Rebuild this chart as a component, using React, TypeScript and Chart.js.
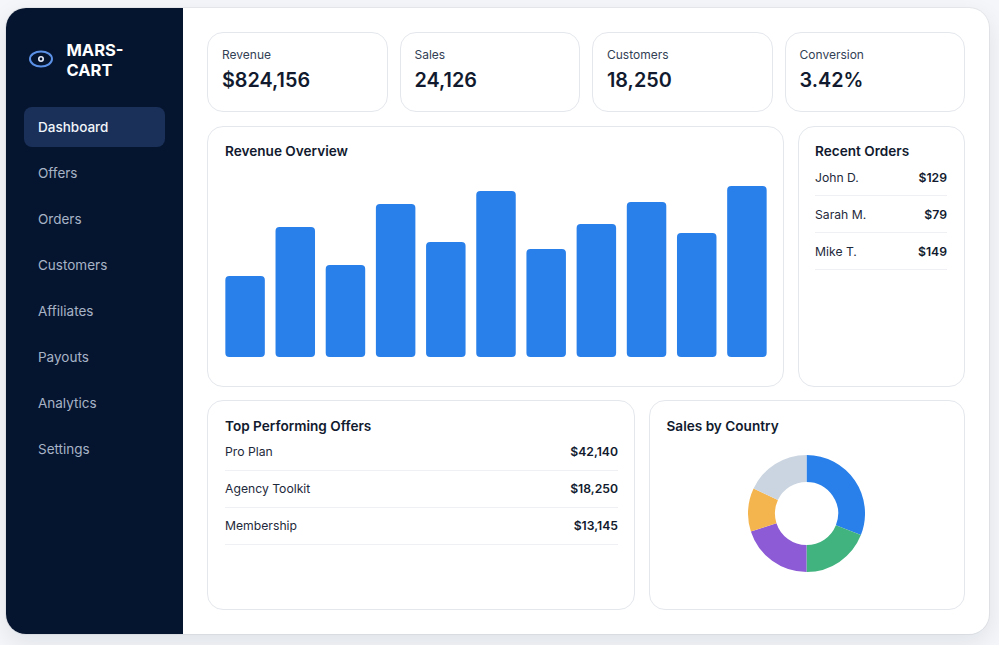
import React, { useEffect, useRef } from 'react';
import Chart from 'chart.js/auto';

const navItems = ['Dashboard', 'Offers', 'Orders', 'Customers', 'Affiliates', 'Payouts', 'Analytics', 'Settings'];
const kpiLabels = ['Revenue', 'Sales', 'Customers', 'Conversion'];
const kpiValues = ['$824,156', '24,126', '18,250', '3.42%'];
const kpiLefts = [207, 399.5, 592, 784.5];

const orderNames = ['John D.', 'Sarah M.', 'Mike T.'];
const orderAmounts = ['$129', '$79', '$149'];
const offerNames = ['Pro Plan', 'Agency Toolkit', 'Membership'];
const offerAmounts = ['$42,140', '$18,250', '$13,145'];

// no axis labels in the picture, so these are just bar indexes
const revenueLabels = ['1', '2', '3', '4', '5', '6', '7', '8', '9', '10', '11'];
const revenueValues = [81, 130, 92, 153, 115, 166, 108, 133, 155, 124, 171];

const countryLabels = ['Country 1', 'Country 2', 'Country 3', 'Country 4', 'Country 5'];
const countryValues = [31, 19, 20, 12, 18];
const countryColors = ['#2a80ea', '#41b37f', '#8d5bd5', '#f5b54e', '#cbd5e1'];

const FONT = 'Inter, "Noto Sans", sans-serif';

const box = (left: number, top: number, width: number, height: number): React.CSSProperties => ({
  position: 'absolute',
  left,
  top,
  width,
  height,
  boxSizing: 'border-box',
  background: '#fff',
  border: '1px solid #e4e7ec',
  borderRadius: 16,
});

const cardTitle: React.CSSProperties = {
  position: 'absolute',
  left: 17,
  top: 15,
  fontSize: 13.6,
  lineHeight: '20px',
  fontWeight: 600,
  color: '#111a2e',
};

function RowList({
  names,
  amounts,
  width,
  top,
  lineHeight = 36,
}: {
  names: string[];
  amounts: string[];
  width: number;
  top: number;
  lineHeight?: number;
}) {
  return (
    <div style={{ position: 'absolute', left: 17, top, width }}>
      {names.map((name, i) => (
        <div
          key={name}
          style={{
            display: 'flex',
            justifyContent: 'space-between',
            height: 36,
            lineHeight: lineHeight + 'px',
            borderBottom: '1px solid #eef0f4',
            fontSize: 12.2,
            color: '#1e293b',
          }}
        >
          <span>{name}</span>
          <span style={{ fontWeight: 600, color: '#111a2e' }}>{amounts[i]}</span>
        </div>
      ))}
    </div>
  );
}

function RevenueChart() {
  const ref = useRef<HTMLCanvasElement | null>(null);

  useEffect(() => {
    if (!ref.current) return;
    const chart = new Chart(ref.current, {
      type: 'bar',
      data: {
        labels: revenueLabels,
        datasets: [
          {
            data: revenueValues,
            backgroundColor: '#2a80ea',
            borderRadius: 4,
            borderSkipped: false,
            barPercentage: 0.787,
            categoryPercentage: 1,
          },
        ],
      },
      options: {
        animation: false,
        responsive: false,
        maintainAspectRatio: false,
        layout: { padding: 0 },
        plugins: { legend: { display: false }, tooltip: { enabled: false } },
        scales: {
          x: { display: false },
          y: { display: false, min: 0, max: 180 },
        },
      },
    });
    return () => chart.destroy();
  }, []);

  return (
    <canvas
      ref={ref}
      width={552}
      height={180}
      style={{ position: 'absolute', left: 11.7, top: 50, width: 552, height: 180 }}
    />
  );
}

function CountryChart() {
  const ref = useRef<HTMLCanvasElement | null>(null);

  useEffect(() => {
    if (!ref.current) return;
    const chart = new Chart(ref.current, {
      type: 'doughnut',
      data: {
        labels: countryLabels,
        datasets: [{ data: countryValues, backgroundColor: countryColors, borderWidth: 0 }],
      },
      options: {
        animation: false,
        responsive: false,
        maintainAspectRatio: false,
        cutout: '54%',
        layout: { padding: 0 },
        plugins: { legend: { display: false }, tooltip: { enabled: false } },
      },
    });
    return () => chart.destroy();
  }, []);

  return (
    <canvas
      ref={ref}
      width={117}
      height={117}
      style={{ position: 'absolute', left: 98, top: 54, width: 117, height: 117 }}
    />
  );
}

export default function App() {
  return (
    <div style={{ position: 'fixed', inset: 0, overflow: 'hidden', background: '#f4f6f9', fontFamily: FONT }}>
      <div
        style={{
          position: 'absolute',
          left: 6,
          top: 8,
          width: 983,
          height: 626,
          background: '#fff',
          borderRadius: 20,
          overflow: 'hidden',
          boxShadow: '0 0 0 1px rgba(15,23,42,0.05), 0 8px 24px rgba(15,23,42,0.09)',
        }}
      >
        <div style={{ position: 'absolute', left: 0, top: 0, width: 177, height: 626, background: '#06152f' }}>
          <svg width="26" height="18" viewBox="0 0 26 18" style={{ position: 'absolute', left: 22, top: 42 }}>
            <ellipse cx="13" cy="9" rx="11" ry="7.5" fill="none" stroke="#5b91e6" strokeWidth="2" />
            <circle cx="13" cy="9" r="2.2" fill="none" stroke="#e8eefb" strokeWidth="1.6" />
          </svg>
          <div
            style={{
              position: 'absolute',
              left: 60.5,
              top: 32,
              width: 70,
              fontSize: 16.5,
              lineHeight: '20px',
              fontWeight: 700,
              color: '#fff',
            }}
          >
            MARS-
            <br />
            CART
          </div>
          {navItems.map((item, i) => (
            <div
              key={item}
              style={{
                position: 'absolute',
                left: 18,
                top: 99 + i * 46,
                width: 141,
                height: 40,
                boxSizing: 'border-box',
                paddingLeft: 14,
                lineHeight: '40px',
                fontSize: 13.5,
                fontWeight: i === 0 ? 500 : 400,
                borderRadius: 8,
                background: i === 0 ? '#1a3059' : 'transparent',
                color: i === 0 ? '#f1f5f9' : '#a7b3c6',
              }}
            >
              {item}
            </div>
          ))}
        </div>
      </div>

      {kpiLabels.map((label, i) => (
        <div key={label} style={box(kpiLefts[i], 32, 180.5, 80)}>
          <div style={{ position: 'absolute', left: 14, top: 13, fontSize: 12, lineHeight: '18px', color: '#334155' }}>
            {label}
          </div>
          <div
            style={{
              position: 'absolute',
              left: 14,
              top: 33,
              fontSize: 19.8,
              lineHeight: '28px',
              fontWeight: 600,
              color: '#111a2e',
            }}
          >
            {kpiValues[i]}
          </div>
        </div>
      ))}

      <div style={box(207, 126, 577, 261)}>
        <div style={{ ...cardTitle, top: 14 }}>Revenue Overview</div>
        <RevenueChart />
      </div>

      <div style={box(798, 126, 167, 261)}>
        <div style={{ ...cardTitle, left: 16, top: 14 }}>Recent Orders</div>
        <div style={{ position: 'absolute', left: -1, top: 0 }}>
          <RowList names={orderNames} amounts={orderAmounts} width={132} top={32} lineHeight={38} />
        </div>
      </div>

      <div style={box(207, 400, 428, 210)}>
        <div style={cardTitle}>Top Performing Offers</div>
        <RowList names={offerNames} amounts={offerAmounts} width={393} top={33} />
      </div>

      <div style={box(648.5, 400, 316.5, 210)}>
        <div style={cardTitle}>Sales by Country</div>
        <CountryChart />
      </div>
    </div>
  );
}
